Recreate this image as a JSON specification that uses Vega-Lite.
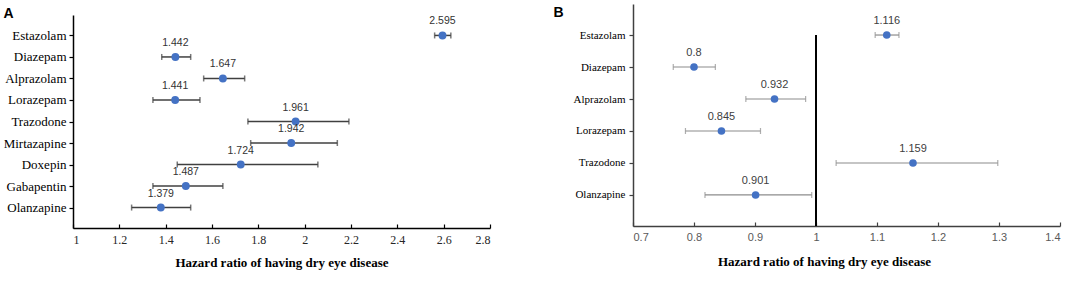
{
  "$schema": "https://vega.github.io/schema/vega-lite/v6.json",
  "background": "white",
  "padding": {"left": 3, "top": 4, "right": 1, "bottom": 2},
  "spacing": 62,
  "config": {"view": {"stroke": null}},
  "datasets": {
    "a": [
      {"drug": "Estazolam", "hr": 2.595, "lo": 2.561, "hi": 2.631},
      {"drug": "Diazepam", "hr": 1.442, "lo": 1.383, "hi": 1.508},
      {"drug": "Alprazolam", "hr": 1.647, "lo": 1.564, "hi": 1.741},
      {"drug": "Lorazepam", "hr": 1.441, "lo": 1.345, "hi": 1.548},
      {"drug": "Trazodone", "hr": 1.961, "lo": 1.755, "hi": 2.191},
      {"drug": "Mirtazapine", "hr": 1.942, "lo": 1.767, "hi": 2.141},
      {"drug": "Doxepin", "hr": 1.724, "lo": 1.45, "hi": 2.057},
      {"drug": "Gabapentin", "hr": 1.487, "lo": 1.345, "hi": 1.647},
      {"drug": "Olanzapine", "hr": 1.379, "lo": 1.253, "hi": 1.508}
    ],
    "b": [
      {"drug": "Estazolam", "hr": 1.116, "lo": 1.097, "hi": 1.136},
      {"drug": "Diazepam", "hr": 0.8, "lo": 0.766, "hi": 0.835},
      {"drug": "Alprazolam", "hr": 0.932, "lo": 0.885, "hi": 0.983},
      {"drug": "Lorazepam", "hr": 0.845, "lo": 0.786, "hi": 0.909},
      {"drug": "Trazodone", "hr": 1.159, "lo": 1.033, "hi": 1.298},
      {"drug": "Olanzapine", "hr": 0.901, "lo": 0.818, "hi": 0.993}
    ],
    "empty": []
  },
  "hconcat": [
    {"spacing": 0, "vconcat": [
    {
      "width": 417,
      "height": 2,
      "data": {"name": "empty"},
      "mark": {"type": "point"},
      "encoding": {}
    },
    {
      "width": 417,
      "height": 213,
      "data": {"name": "a"},
      "encoding": {
        "y": {"field": "drug", "type": "nominal", "sort": null,
          "scale": {"type": "point", "padding": 0.95},
          "axis": {"title": "A", "titleAngle": 0, "titleX": -70, "titleY": -9, "titleAlign": "left", "titleBaseline": "top", "titleFont": "Liberation Sans", "titleFontSize": 14, "titleFontWeight": "bold", "titleColor": "black",
            "domainColor": "black", "domainWidth": 1.5, "tickColor": "black", "tickWidth": 1.2, "tickSize": 4, "labelFont": "Liberation Serif", "labelFontSize": 13, "labelColor": "black", "labelPadding": 3}}
      },
      "layer": [
        {
          "mark": {"type": "rule", "color": "#404040", "strokeWidth": 1.5},
          "encoding": {
            "x": {"field": "lo", "type": "quantitative",
              "scale": {"domain": [1, 2.8], "nice": false, "zero": false},
              "axis": {"values": [1, 1.2, 1.4, 1.6, 1.8, 2, 2.2, 2.4, 2.6, 2.8], "format": "~g", "grid": false,
                "title": "Hazard ratio of having dry eye disease", "titleFont": "Liberation Serif", "titleFontSize": 13, "titleFontWeight": "bold", "titleColor": "black", "titlePadding": 11,
                "domainColor": "black", "domainWidth": 1.5, "tickColor": "black", "tickWidth": 1.2, "tickSize": -4,
                "labelFont": "Liberation Serif", "labelFontSize": 12, "labelColor": "#262626", "labelPadding": 10}},
            "x2": {"field": "hi"}
          }
        },
        {
          "mark": {"type": "tick", "color": "#404040", "thickness": 1.5, "size": 6},
          "encoding": {"x": {"field": "lo", "type": "quantitative"}}
        },
        {
          "mark": {"type": "tick", "color": "#404040", "thickness": 1.5, "size": 6},
          "encoding": {"x": {"field": "hi", "type": "quantitative"}}
        },
        {
          "mark": {"type": "point", "filled": true, "color": "#4472C4", "size": 62, "opacity": 1},
          "encoding": {"x": {"field": "hr", "type": "quantitative"}}
        },
        {
          "mark": {"type": "text", "font": "Liberation Sans", "fontSize": 10.5, "color": "#333333", "dy": -14, "baseline": "middle"},
          "encoding": {"x": {"field": "hr", "type": "quantitative"}, "text": {"field": "hr", "type": "quantitative", "format": "~g"}}
        }
      ]
    }
    ]},
    {
      "width": 427,
      "height": 222,
      "data": {"name": "b"},
      "layer": [
        {
          "mark": {"type": "rule", "color": "#8c8c8c", "strokeWidth": 1.2},
          "encoding": {
            "y": {"field": "drug", "type": "nominal", "sort": null,
              "scale": {"type": "point", "padding": 0.97},
              "axis": {"title": "B", "titleAngle": 0, "titleX": -80, "titleY": 1, "titleAlign": "left", "titleBaseline": "top", "titleFont": "Liberation Sans", "titleFontSize": 14, "titleFontWeight": "bold", "titleColor": "black",
                "domainColor": "#404040", "domainWidth": 1.5, "tickColor": "#404040", "tickWidth": 1.2, "tickSize": 4, "labelFont": "Liberation Serif", "labelFontSize": 11, "labelColor": "black", "labelPadding": 4}},
            "x": {"field": "lo", "type": "quantitative",
              "scale": {"domain": [0.7, 1.4], "nice": false, "zero": false},
              "axis": {"values": [0.7, 0.8, 0.9, 1, 1.1, 1.2, 1.3, 1.4], "format": "~g", "grid": false,
                "title": "Hazard ratio of having dry eye disease", "titleFont": "Liberation Serif", "titleFontSize": 13, "titleFontWeight": "bold", "titleColor": "black", "titlePadding": 13, "titleX": 191, "titleAlign": "center",
                "domainColor": "#404040", "domainWidth": 1.5, "tickColor": "#404040", "tickWidth": 1.2, "tickSize": -4,
                "labelFont": "Liberation Sans", "labelFontSize": 11, "labelColor": "#595959", "labelPadding": 9}},
            "x2": {"field": "hi"}
          }
        },
        {
          "mark": {"type": "tick", "color": "#8c8c8c", "thickness": 1.2, "size": 6},
          "encoding": {"y": {"field": "drug", "type": "nominal", "sort": null}, "x": {"field": "lo", "type": "quantitative"}}
        },
        {
          "mark": {"type": "tick", "color": "#8c8c8c", "thickness": 1.2, "size": 6},
          "encoding": {"y": {"field": "drug", "type": "nominal", "sort": null}, "x": {"field": "hi", "type": "quantitative"}}
        },
        {
          "mark": {"type": "rule", "color": "black", "strokeWidth": 1.5},
          "encoding": {"x": {"datum": 1, "type": "quantitative"}, "y": {"datum": "Estazolam", "type": "nominal"}, "y2": {"value": "height"}}
        },
        {
          "mark": {"type": "point", "filled": true, "color": "#4472C4", "size": 58, "opacity": 1},
          "encoding": {"y": {"field": "drug", "type": "nominal", "sort": null}, "x": {"field": "hr", "type": "quantitative"}}
        },
        {
          "mark": {"type": "text", "font": "Liberation Sans", "fontSize": 11, "color": "#404040", "dy": -14, "baseline": "middle"},
          "encoding": {"y": {"field": "drug", "type": "nominal", "sort": null}, "x": {"field": "hr", "type": "quantitative"}, "text": {"field": "hr", "type": "quantitative", "format": "~g"}}
        }
      ]
    }
  ]
}
